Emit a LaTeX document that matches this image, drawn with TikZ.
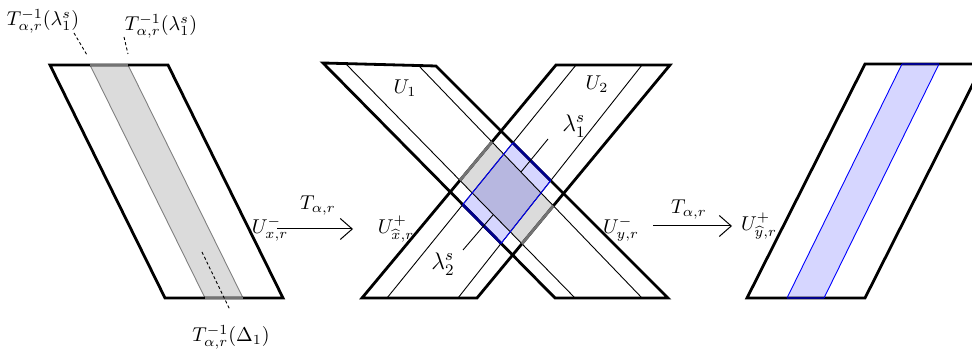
\documentclass[tikz,border=0pt]{standalone}
\usepackage{amsmath}
\usetikzlibrary{arrows.meta}
\begin{document}
\begin{tikzpicture}[x=0.5pt,y=-0.5pt,
  edge/.style={line width=1.4pt, line join=miter},
  fine/.style={line width=0.45pt},
  pointer/.style={line width=0.45pt, dash pattern=on 1.5pt off 1.2pt},
  maparrow/.style={line width=0.5pt,-{Straight Barb[length=6pt,width=10.5pt]}},
  lab/.style={inner sep=0pt},
  greyfill/.style={fill=black!14},
  bluefill/.style={fill=blue,fill opacity=0.16},
  greyedge/.style={edge,draw=black!55},
  blueedge/.style={edge,draw=blue!55!black}]
\useasboundingbox (0,0) rectangle (972,356);

% ---------- left parallelogram ----------
\coordinate (A1) at (50,65);
\coordinate (A2) at (168,65);
\coordinate (A3) at (283,298);
\coordinate (A4) at (165,298);
\coordinate (G1) at (90,65);
\coordinate (G2) at (128,65);
\coordinate (G3) at (243,298);
\coordinate (G4) at (205,298);
\fill[greyfill] (G1)--(G2)--(G3)--(G4)--cycle;
\draw[fine,gray] (G1)--(G4) (G2)--(G3);
\draw[edge] (A1)--(A2)--(A3)--(A4)--cycle;
\draw[greyedge] (G1)--(G2) (G4)--(G3);

% ---------- middle X ----------
\coordinate (P1) at (323,63);
\coordinate (P2) at (436,66);
\coordinate (P3) at (668,298);
\coordinate (P4) at (555,298);
\coordinate (Q1) at (362,298);
\coordinate (Q2) at (477,298);
\coordinate (Q3) at (670,65);
\coordinate (Q4) at (556,65);
% inner lines of U1
\coordinate (b1) at (345,63);
\coordinate (b2) at (575,298);
\coordinate (c1) at (418,65);
\coordinate (c2) at (642,298);
% inner lines of U2
\coordinate (e1) at (387,298);
\coordinate (e2) at (576,65);
\coordinate (f1) at (458,298);
\coordinate (f2) at (642,65);

\begin{scope}
  \clip (Q1)--(Q2)--(Q3)--(Q4)--cycle;
  \fill[greyfill] (b1)--(c1)--(c2)--(b2)--cycle;
\end{scope}
\begin{scope}
  \clip (P1)--(P2)--(P3)--(P4)--cycle;
  \fill[bluefill] (e1)--(f1)--(f2)--(e2)--cycle;
\end{scope}
\draw[fine] (b1)--(b2) (c1)--(c2) (e1)--(e2) (f1)--(f2);
\draw[edge] (P1)--(P2)--(P3)--(P4)--cycle;
\draw[edge] (Q1)--(Q2)--(Q3)--(Q4)--cycle;
\begin{scope}
  \clip (b1)--(c1)--(c2)--(b2)--cycle;
  \draw[greyedge] (Q1)--(Q4) (Q2)--(Q3);
\end{scope}
\begin{scope}
  \clip (e1)--(f1)--(f2)--(e2)--cycle;
  \draw[blueedge] (P1)--(P4) (P2)--(P3);
\end{scope}
\begin{scope}
  \clip (P1)--(P2)--(P3)--(P4)--cycle;
  \draw[fine,blue] (e1)--(e2) (f1)--(f2);
\end{scope}

% ---------- right parallelogram ----------
\coordinate (R1) at (747,298);
\coordinate (R2) at (865,298);
\coordinate (R3) at (983,64);
\coordinate (R4) at (865,64);
\coordinate (H1) at (787,298);
\coordinate (H2) at (824,298);
\coordinate (H3) at (939,64);
\coordinate (H4) at (902,64);
\fill[bluefill] (H1)--(H2)--(H3)--(H4)--cycle;
\draw[edge] (R1)--(R2)--(R3)--(R4)--cycle;
\draw[fine,blue] (H1)--(H4) (H2)--(H3);
\draw[blueedge] (H1)--(H2) (H4)--(H3);

% ---------- labels ----------
\node[lab] (tl1) at (43,21) {$T^{-1}_{\alpha,r}(\lambda^s_1)$};
\node[lab] (tl2) at (161,26) {$T^{-1}_{\alpha,r}(\lambda^s_1)$};
\node[lab] (td) at (231,337) {$T^{-1}_{\alpha,r}(\Delta_1)$};
\coordinate (d1s) at (74,33);
\coordinate (d1e) at (87,55);
\coordinate (d2s) at (124,37);
\coordinate (d2e) at (128,54);
\coordinate (d3s) at (202,252);
\coordinate (d3e) at (230,310);
\draw[pointer] (d1s)--(d1e);
\draw[pointer] (d2s)--(d2e);
\draw[pointer] (d3s)--(d3e);

\node[lab] (uxm) at (270,229) {$U^-_{x,r}$};
\node[lab] (uxp) at (396,229) {$U^+_{\widehat{x},r}$};
\node[lab] (uym) at (621,229) {$U^-_{y,r}$};
\node[lab] (uyp) at (759,226) {$U^+_{\widehat{y},r}$};
\node[lab] (u1) at (405,88) {$U_1$};
\node[lab] (u2) at (597,84) {$U_2$};
\node[lab,font=\large] (l1) at (574,126) {$\lambda^s_1$};
\node[lab,font=\large] (l2) at (443,264) {$\lambda^s_2$};

\coordinate (l1p) at (548,139);
\coordinate (l1q) at (521,172);
\coordinate (l2p) at (463,250);
\coordinate (l2q) at (493,215);
\draw[fine] (l1p)--(l1q);
\draw[fine] (l2p)--(l2q);

\coordinate (a1s) at (277,229);
\coordinate (a1e) at (353,229);
\coordinate (a2s) at (653,226);
\coordinate (a2e) at (732,226);
\draw[maparrow] (a1s)--(a1e);
\draw[maparrow] (a2s)--(a2e);
\node[lab] (t1) at (318,206) {$T_{\alpha,r}$};
\node[lab] (t2) at (689,210) {$T_{\alpha,r}$};
\end{tikzpicture}
\end{document}
